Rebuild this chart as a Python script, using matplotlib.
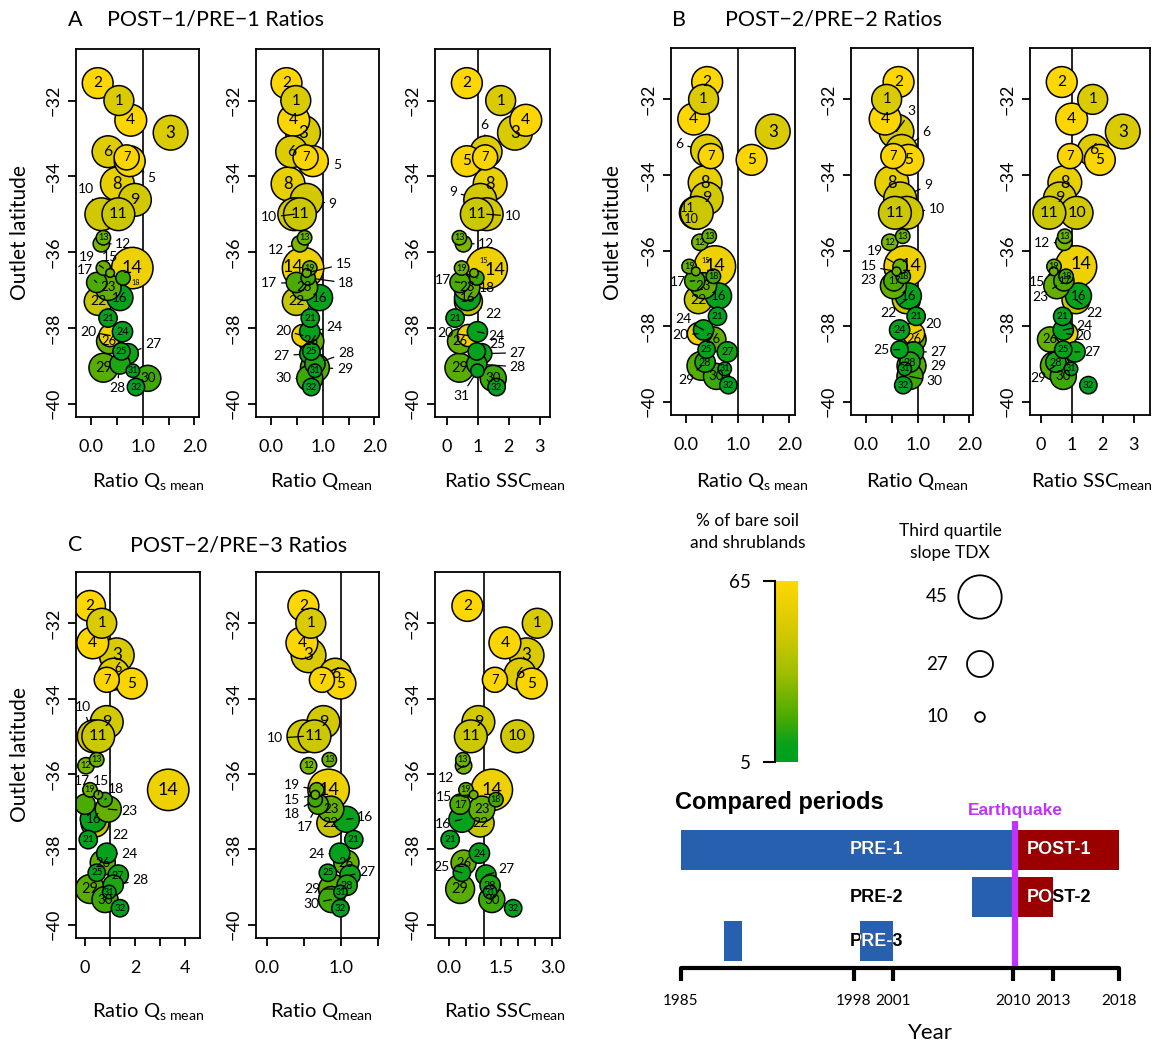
import numpy as np
import matplotlib
matplotlib.use('Agg')
import matplotlib.pyplot as plt
from matplotlib.colors import LinearSegmentedColormap, Normalize
from matplotlib.patches import Rectangle

plt.rcParams['font.family'] = ['Lato', 'DejaVu Sans']
plt.rcParams['mathtext.fontset'] = 'custom'
plt.rcParams['mathtext.rm'] = 'Lato'
plt.rcParams['mathtext.it'] = 'Lato:italic'
plt.rcParams['mathtext.bf'] = 'Lato:bold'

W, H = 1158, 1044
nan = np.nan

# ---------------- data ----------------
catchment = list(range(1, 33))
latitude = [-32.0, -31.54, -32.85, -32.52, -33.6, -33.35, -33.5, -34.2, -34.62, -35.0,
            -35.0, -35.78, -35.62, -36.42, -36.55, -37.2, -36.8, -36.68, -36.42, -38.2,
            -37.74, -37.3, -36.93, -38.1, -38.62, -38.35, -38.68, -38.95, -39.05, -39.33,
            -39.13, -39.56]
bare_soil = [50, 65, 50, 64, 63, 52, 63, 56, 48, 47, 46, 28, 25, 58, 25, 10, 20, 18, 25, 58,
             8, 44, 24, 8, 10, 24, 12, 14, 22, 18, 8, 6]
slope_q3 = [31, 32, 36, 33, 32, 33, 26, 35, 34, 34, 34, 17, 15, 43, 9, 27, 21, 15, 15, 23,
            19, 29, 27, 21, 18, 26, 21, 21, 30, 27, 14, 18]

qs_post1_pre1 = [0.54, 0.13, 1.54, 0.77, 0.75, 0.33, 0.69, 0.51, 0.85, 0.2, 0.53, 0.2, 0.24, 0.8,
                 0.37, 0.56, 0.11, 0.62, 0.24, 0.37, 0.33, 0.14, 0.33, 0.61, 0.59, 0.35, 0.72,
                 0.56, 0.24, 1.1, 0.81, 0.87]
q_post1_pre1 = [0.48, 0.30, 0.62, 0.44, 0.81, 0.40, 0.67, 0.33, 0.69, 0.45, 0.56, 0.56, 0.65, 0.62,
                0.69, 0.94, 0.49, 0.72, 0.75, 0.62, 0.76, 0.49, 0.65, 0.75, 0.78, 0.78, 0.75,
                0.85, 0.85, 0.75, 0.85, 0.78]
ssc_post1_pre1 = [1.74, 0.65, 2.2, 2.55, 0.65, 1.27, 1.24, 1.40, 1.08, 1.29, 0.97, 0.54, 0.41, 1.29,
                  0.88, 0.67, 0.43, 0.97, 0.48, 0.7, 0.27, 0.7, 0.65, 0.99, 0.97, 0.43, 1.13,
                  0.97, 0.41, 1.5, 0.99, 1.61]

qs_post2_pre2 = [0.34, 0.41, 1.68, 0.15, 1.27, 0.40, 0.48, 0.37, 0.40, 0.19, 0.21, 0.27, 0.45, 0.56,
                 0.19, 0.63, 0.17, 0.53, 0.06, 0.24, 0.61, 0.24, 0.34, 0.34, 0.40, 0.53, 0.8,
                 0.37, 0.3, 0.59, 0.75, 0.82]
q_post2_pre2 = [0.40, 0.63, 0.59, 0.37, 0.82, 0.69, 0.53, 0.50, 0.66, 0.79, 0.56, 0.46, 0.71, 0.75,
                0.59, 0.82, 0.54, 0.72, 0.66, 0.92, 0.97, 0.78, 0.53, 0.65, 0.65, 0.92, 0.92,
                0.85, 0.88, 0.85, 0.75, 0.72]
ssc_post2_pre2 = [1.68, 0.68, 2.65, 1.0, 1.91, 1.70, 0.95, 0.78, 0.62, 1.16, 0.28, 0.75, 0.78, 1.14,
                  0.42, 1.22, 0.75, 0.82, 0.43, 0.84, 0.71, 1.14, 0.52, 0.73, 0.73, 0.30, 1.11,
                  0.49, 0.46, 0.73, 0.98, 1.54]

qs_post2_pre3 = [0.67, 0.2, 1.27, 0.31, 1.87, 1.15, 0.87, nan, 0.87, 0.35, 0.53, 0.04, 0.47, 3.33,
                 0.53, 0.33, 0.0, 0.8, 0.2, nan, 0.13, 0.4, 0.93, 0.87, 0.47, 0.71, 1.33,
                 1.13, 0.2, 0.8, 0.97, 1.4]
q_post2_pre3 = [0.59, 0.49, 0.56, 0.47, 0.99, 0.92, 0.74, nan, 0.76, 0.49, 0.64, 0.56, 0.84, 0.83,
                0.65, 1.07, 0.69, 0.65, 0.67, nan, 1.17, 0.86, 0.86, 0.98, 0.82, 1.07, 1.12,
                1.08, 0.89, 0.87, 0.99, 0.99]
ssc_post2_pre3 = [2.56, 0.53, 2.25, 1.62, 2.4, 2.06, 1.33, nan, 0.85, 1.98, 0.63, 0.42, 0.4, 1.24,
                  0.71, 0.37, 0.32, 1.36, 0.49, nan, 0.03, 0.9, 0.95, 0.88, 0.37, 0.42, 1.07,
                  1.19, 0.32, 1.24, 1.19, 1.86]

cbar_range = [5, 65]
size_legend_values = [45, 27, 10]

period_names = ['PRE-1', 'POST-1', 'PRE-2', 'POST-2', 'PRE-3', 'PRE-3']
period_start = [1985, 2010.15, 2006.9, 2010.15, 1988.25, 1998.5]
period_end = [2010.15, 2018, 2010.15, 2013, 1989.6, 2001]
period_row = [1, 1, 2, 2, 3, 3]
period_kind = ['pre', 'post', 'pre', 'post', 'pre', 'pre']
year_ticks = [1985, 1998, 2001, 2010, 2013, 2018]
earthquake_year = 2010.15

# ---------------- styling ----------------
cmap = LinearSegmentedColormap.from_list(
    'bare', [(0.0, '#00A020'), (0.1, '#08A21A'), (0.25, '#4CAB00'), (0.5, '#A2BF00'),
             (0.72, '#D4C900'), (1.0, '#FFD700')])
norm = Normalize(cbar_range[0], cbar_range[1])


def diam_px(v):
    return 0.963 * v


def area(v):
    return (diam_px(v) * 0.72) ** 2


fig = plt.figure(figsize=(W / 100, H / 100), dpi=100)


def px_axes(x0, y0, x1, y1, **kw):
    return fig.add_axes([x0 / W, 1 - y1 / H, (x1 - x0) / W, (y1 - y0) / H], **kw)


def ftext(x, y, s, **kw):
    return fig.text(x / W, 1 - y / H, s, **kw)


lat = np.array(latitude)
slope = np.array(slope_q3, float)
cols = np.array([cmap(norm(b)) for b in bare_soil])


def bubble_panel(rect, xvals, xlim, xticks, xticklabels, offsets):
    ax = px_axes(*rect)
    x = np.array(xvals, float)
    ax.axvline(1, color='black', lw=1.2, zorder=1)
    order = [i for i in np.argsort(-slope, kind='stable') if not np.isnan(x[i])]
    ax.scatter(x[order], lat[order], s=[area(slope[i]) for i in order],
               c=cols[order], edgecolors='black', linewidths=1.1, zorder=2)
    for i in range(len(catchment)):
        if np.isnan(x[i]):
            continue
        cid = catchment[i]
        d = diam_px(slope[i])
        fs_in = float(np.clip(0.3 * d + 1.8, 6.5, 13))
        if cid in offsets:
            o = offsets[cid]
            if len(o) == 3:
                fs = fs_in * (0.8 if o[2] == 'n' else 1.0)
                ax.annotate(str(cid), xy=(x[i], lat[i]), xytext=(o[0] * 0.72, -o[1] * 0.72),
                            textcoords='offset points', ha='center', va='center',
                            fontsize=fs, zorder=6)
            else:
                ax.annotate(str(cid), xy=(x[i], lat[i]), xytext=(o[0] * 0.72, -o[1] * 0.72),
                            textcoords='offset points', ha='center', va='center',
                            fontsize=10, zorder=6,
                            arrowprops=dict(arrowstyle='-', color='black', lw=0.9,
                                            shrinkA=1, shrinkB=d * 0.72 / 2))
        else:
            ax.text(x[i], lat[i], str(cid), ha='center', va='center', fontsize=fs_in, zorder=5)
    ax.set_xlim(*xlim)
    ax.set_ylim(-40.35, -30.64)
    yt = [-32, -34, -36, -38, -40]
    ax.set_yticks(yt)
    ax.set_yticklabels(['\u2212%d' % (-v) for v in yt], rotation=90, va='center')
    ax.set_xticks(xticks)
    ax.set_xticklabels(xticklabels)
    ax.tick_params(length=6, width=1.3, labelsize=13, color='black')
    ax.tick_params(axis='x', pad=10)
    ax.tick_params(axis='y', pad=4)
    for sp in ax.spines.values():
        sp.set_linewidth(1.3)
    return ax


t05 = [0.0, 0.5, 1.0, 1.5, 2.0]
t05l = ['0.0', '', '1.0', '', '2.0']
t1 = [0, 1, 2, 3]
t1l = ['0', '1', '2', '3']

off_A1 = {5: (22, 17), 10: (-15, -25), 12: (22, 0), 19: (-16, -11), 15: (0, -16), 17: (-12, -12),
          18: (13, 5, 'n'), 20: (-22, -4), 27: (25, -10), 28: (-3, 24)}
off_A2 = {5: (24, 4), 9: (26, 4), 10: (-25, 3), 12: (-24, 6), 14: (-10, -1, 'N'), 15: (37, -9),
          17: (-27, 1), 18: (38, 5), 20: (-20, -5), 24: (25, -5), 27: (-28, 2), 28: (31, -11),
          29: (30, 1), 30: (-26, 0)}
off_A3 = {6: (-2, -27), 9: (-27, -8), 10: (26, 2), 12: (23, 0), 14: (8, 2, 'N'),
          15: (10, -12, 'n'), 17: (-17, -2), 18: (10, 10), 22: (25, 13), 20: (-23, -3),
          24: (19, 4), 25: (21, -7), 27: (36, -1), 28: (41, 3), 31: (-16, 25)}
off_B1 = {6: (-27, -6), 10: (-4, 6, 'n'), 11: (-9, -5, 'n'), 15: (10, -11, 'n'), 17: (-17, 1),
          24: (-20, -11), 20: (-18, 1), 29: (-15, 14)}
off_B2 = {3: (15, -21), 6: (25, -18), 9: (28, -13), 10: (30, -4), 19: (-25, -15), 15: (-28, -5),
          23: (-25, -6), 22: (-18, 13), 20: (20, -10), 25: (-18, 0), 27: (25, 0), 29: (27, 0),
          30: (24, 5), 14: (6, 0, 'N')}
off_B3 = {12: (-22, 1), 15: (-17, 11), 23: (-16, 11), 22: (18, 13), 24: (21, -4), 20: (17, 2),
          27: (17, 0), 29: (-17, 12), 14: (5, -2, 'N')}
off_C1 = {10: (-11, -29), 15: (3, -14), 17: (-3, -23), 18: (11, -11), 23: (21, 2), 22: (25, 12),
          24: (23, 1), 28: (27, -5), 6: (4, -6, 'n')}
off_C2 = {10: (-28, 2), 19: (-25, -5), 15: (-23, 5), 18: (-23, 14), 17: (-13, 23), 16: (19, -2),
          24: (-23, 1), 27: (17, -3), 29: (-21, 0), 30: (-20, 4)}
off_C3 = {12: (-18, 12), 15: (-30, 2), 16: (-19, 5), 25: (-20, -6), 27: (20, -6)}

bubble_panel((76, 49, 199, 417), qs_post1_pre1, (-0.29, 2.09), t05, t05l, off_A1)
bubble_panel((256, 49, 379, 417), q_post1_pre1, (-0.29, 2.09), t05, t05l, off_A2)
bubble_panel((435, 49, 550, 417), ssc_post1_pre1, (-0.377, 3.33), t1, t1l, off_A3)
bubble_panel((671, 48, 795, 415), qs_post2_pre2, (-0.29, 2.11), t05, t05l, off_B1)
bubble_panel((851, 48, 973, 415), q_post2_pre2, (-0.29, 2.07), t05, t05l, off_B2)
bubble_panel((1030, 48, 1150, 415), ssc_post2_pre2, (-0.345, 3.53), t1, t1l, off_B3)
bubble_panel((76, 572, 200, 938), qs_post2_pre3, (-0.36, 4.6), [0, 1, 2, 3, 4],
             ['0', '', '2', '', '4'], off_C1)
bubble_panel((256, 572, 379, 938), q_post2_pre3, (-0.149, 1.51), [0.0, 0.5, 1.0, 1.5],
             ['0.0', '', '1.0', ''], off_C2)
bubble_panel((435, 572, 560, 938), ssc_post2_pre3, (-0.41, 3.22), [0, 0.5, 1, 1.5, 2, 2.5, 3],
             ['0.0', '', '', '1.5', '', '', '3.0'], off_C3)

# titles
for (xl, xt, y, letter, title) in [(68, 107, 20, 'A', 'POST\u22121/PRE\u22121 Ratios'),
                                   (672, 725, 20, 'B', 'POST\u22122/PRE\u22122 Ratios'),
                                   (68, 130, 545, 'C', 'POST\u22122/PRE\u22123 Ratios')]:
    ftext(xl, y, letter, fontsize=15.5, va='center', ha='left')
    ftext(xt, y, title, fontsize=15.5, va='center', ha='left')

# y labels
for (x, y) in [(20, 233), (613, 233), (20, 755)]:
    ftext(x, y, 'Outlet latitude', fontsize=15, rotation=90, ha='center', va='center')

# x labels
lab_qs = 'Ratio Q$_{\\mathrm{s\\ mean}}$'
lab_q = 'Ratio Q$_{\\mathrm{mean}}$'
lab_ssc = 'Ratio SSC$_{\\mathrm{mean}}$'
for (x, y, s) in [(148, 482, lab_qs), (321, 482, lab_q), (505, 482, lab_ssc),
                  (752, 482, lab_qs), (917, 482, lab_q), (1092, 482, lab_ssc),
                  (148, 1011, lab_qs), (321, 1011, lab_q), (505, 1011, lab_ssc)]:
    ftext(x, y, s, fontsize=14.5, ha='center', va='center')

# colour bar
cax = px_axes(776, 581, 798, 762)
grad = np.linspace(cbar_range[0], cbar_range[1], 256).reshape(-1, 1)
cax.imshow(grad, aspect='auto', origin='lower', cmap=cmap, norm=norm,
           extent=[0, 1, cbar_range[0], cbar_range[1]])
cax.set_xlim(0, 1)
cax.set_ylim(cbar_range[0], cbar_range[1])
for k in ['top', 'right', 'bottom']:
    cax.spines[k].set_visible(False)
cax.spines['left'].set_linewidth(1.5)
cax.spines['left'].set_position(('outward', 1))
cax.set_xticks([])
cax.set_yticks(cbar_range)
cax.set_yticklabels([str(v) for v in cbar_range])
cax.tick_params(axis='y', length=9, width=1.5, labelsize=13.5, pad=8)
ftext(748, 532, '% of bare soil\nand shrublands', fontsize=12.5, ha='center', va='center',
      linespacing=1.5)

# size legend
ov = px_axes(0, 0, W, H, zorder=-1)
ov.set_xlim(0, W)
ov.set_ylim(H, 0)
ov.axis('off')
leg_y = [597, 664, 717]
for v, yy in zip(size_legend_values, leg_y):
    ov.scatter([980], [yy], s=area(v), facecolors='none', edgecolors='black', linewidths=1.3)
    ftext(948, yy, str(v), fontsize=13.5, ha='right', va='center')
ftext(950, 542, 'Third quartile\nslope TDX', fontsize=12.5, ha='center', va='center',
      linespacing=1.5)

# timeline
tax = px_axes(681, 820, 1119, 968)
tax.set_xlim(1985, 2018)
tax.set_ylim(0, 148)
row_y0 = {1: 98, 2: 51, 3: 7}
row_h = 40
kind_col = {'pre': '#2660AE', 'post': '#9B0000'}
bars_by_row = {1: [], 2: [], 3: []}
for name, s, e, r, k in zip(period_names, period_start, period_end, period_row, period_kind):
    p = Rectangle((s, row_y0[r]), e - s, row_h, facecolor=kind_col[k], edgecolor='none', zorder=2)
    tax.add_patch(p)
    bars_by_row[r].append(p)
tax.plot([earthquake_year, earthquake_year], [2, 147], color='#C232FF', lw=4.5,
         solid_capstyle='butt', clip_on=False, zorder=5)
bold = dict(family=['Liberation Sans', 'DejaVu Sans'], fontweight='bold')
labels_pos = {'PRE-1': (1999.7, 1), 'POST-1': (2013.5, 1), 'PRE-2': (1999.7, 2),
              'POST-2': (2013.5, 2), 'PRE-3': (1999.7, 3)}
for name, (xp, r) in labels_pos.items():
    yc = row_y0[r] + row_h / 2
    tax.text(xp, yc, name, color='black', fontsize=13, ha='center', va='center', zorder=6, **bold)
    for p in bars_by_row[r]:
        tw = tax.text(xp, yc, name, color='white', fontsize=13, ha='center', va='center',
                      zorder=7, clip_on=True, **bold)
        tw.set_clip_path(p)
for k in ['top', 'right', 'left']:
    tax.spines[k].set_visible(False)
tax.spines['bottom'].set_linewidth(3)
tax.spines['bottom'].set_capstyle('round')
tax.set_yticks([])
tax.set_xticks(year_ticks)
tax.set_xticklabels([str(v) for v in year_ticks])
tax.tick_params(axis='x', length=9, width=3, labelsize=11, pad=10)
ftext(675, 802, 'Compared periods', fontsize=17, ha='left', va='center', **bold)
ftext(1015, 810, 'Earthquake', fontsize=12.5, ha='center', va='center', color='#C232FF', **bold)
ftext(930, 1033, 'Year', fontsize=16, ha='center', va='center')

fig.savefig('out.png', dpi=100)
